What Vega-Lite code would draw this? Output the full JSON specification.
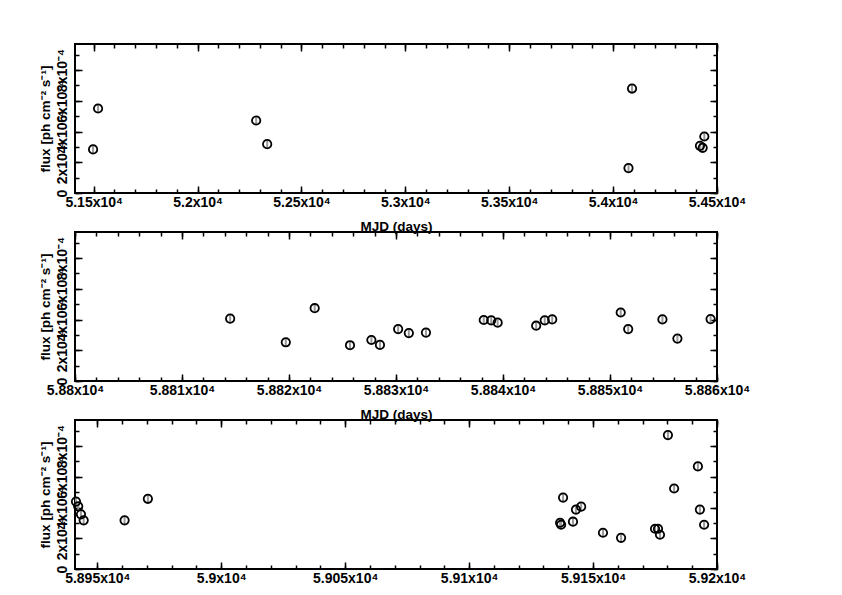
{
  "$schema": "https://vega.github.io/schema/vega-lite/v6.json",
  "padding": {"left": 36, "top": 42, "right": 20, "bottom": 5},
  "background": "white",
  "config": {
    "view": {"stroke": "black", "strokeWidth": 2},
    "axis": {
      "domain": false, "grid": false,
      "labelFont": "Liberation Sans", "labelFontSize": 14, "labelFontWeight": "bold", "labelColor": "black",
      "titleFont": "Liberation Sans", "titleFontSize": 13.5, "titleFontWeight": "bold", "titleColor": "black",
      "tickColor": "black", "tickWidth": 1.5, "labelFlush": false, "labelOverlap": false
    }
  },
  "datasets": {
    "p1": [
      {"mjd": 51497, "flux": 0.000284, "lo": 0.000259, "hi": 0.000309},
      {"mjd": 51521, "flux": 0.000550, "lo": 0.000525, "hi": 0.000575},
      {"mjd": 52282, "flux": 0.000472, "lo": 0.000447, "hi": 0.000497},
      {"mjd": 52335, "flux": 0.000318, "lo": 0.000293, "hi": 0.000343},
      {"mjd": 54074, "flux": 0.000162, "lo": 0.000137, "hi": 0.000187},
      {"mjd": 54091, "flux": 0.000680, "lo": 0.000655, "hi": 0.000705},
      {"mjd": 54418, "flux": 0.000307, "lo": 0.000282, "hi": 0.000332},
      {"mjd": 54431, "flux": 0.000294, "lo": 0.000269, "hi": 0.000319},
      {"mjd": 54439, "flux": 0.000368, "lo": 0.000343, "hi": 0.000393}
    ],
    "p2": [
      {"mjd": 58814.5, "flux": 0.000406, "lo": 0.000381, "hi": 0.000431},
      {"mjd": 58819.7, "flux": 0.000252, "lo": 0.000227, "hi": 0.000277},
      {"mjd": 58822.4, "flux": 0.000474, "lo": 0.000449, "hi": 0.000499},
      {"mjd": 58825.7, "flux": 0.000233, "lo": 0.000208, "hi": 0.000258},
      {"mjd": 58827.7, "flux": 0.000267, "lo": 0.000242, "hi": 0.000292},
      {"mjd": 58828.5, "flux": 0.000235, "lo": 0.000210, "hi": 0.000260},
      {"mjd": 58830.2, "flux": 0.000338, "lo": 0.000313, "hi": 0.000363},
      {"mjd": 58831.2, "flux": 0.000312, "lo": 0.000287, "hi": 0.000337},
      {"mjd": 58832.8, "flux": 0.000315, "lo": 0.000290, "hi": 0.000340},
      {"mjd": 58838.2, "flux": 0.000397, "lo": 0.000372, "hi": 0.000422},
      {"mjd": 58838.9, "flux": 0.000395, "lo": 0.000370, "hi": 0.000420},
      {"mjd": 58839.5, "flux": 0.000380, "lo": 0.000355, "hi": 0.000405},
      {"mjd": 58843.1, "flux": 0.000360, "lo": 0.000335, "hi": 0.000385},
      {"mjd": 58843.9, "flux": 0.000395, "lo": 0.000370, "hi": 0.000420},
      {"mjd": 58844.6, "flux": 0.000401, "lo": 0.000376, "hi": 0.000426},
      {"mjd": 58851.0, "flux": 0.000446, "lo": 0.000421, "hi": 0.000476},
      {"mjd": 58851.7, "flux": 0.000338, "lo": 0.000313, "hi": 0.000363},
      {"mjd": 58854.9, "flux": 0.000401, "lo": 0.000376, "hi": 0.000426},
      {"mjd": 58856.3, "flux": 0.000276, "lo": 0.000251, "hi": 0.000301},
      {"mjd": 58859.4, "flux": 0.000403, "lo": 0.000378, "hi": 0.000428}
    ],
    "p3": [
      {"mjd": 58941.4, "flux": 0.000439, "lo": 0.000414, "hi": 0.000464},
      {"mjd": 58942.3, "flux": 0.000408, "lo": 0.000383, "hi": 0.000433},
      {"mjd": 58943.4, "flux": 0.000356, "lo": 0.000331, "hi": 0.000381},
      {"mjd": 58944.5, "flux": 0.000317, "lo": 0.000292, "hi": 0.000342},
      {"mjd": 58961.0, "flux": 0.000317, "lo": 0.000292, "hi": 0.000342},
      {"mjd": 58970.4, "flux": 0.000457, "lo": 0.000432, "hi": 0.000482},
      {"mjd": 59136.7, "flux": 0.000301, "lo": 0.000276, "hi": 0.000326},
      {"mjd": 59137.1, "flux": 0.000288, "lo": 0.000263, "hi": 0.000313},
      {"mjd": 59137.9, "flux": 0.000465, "lo": 0.000440, "hi": 0.000490},
      {"mjd": 59141.9, "flux": 0.000308, "lo": 0.000283, "hi": 0.000333},
      {"mjd": 59143.1, "flux": 0.000387, "lo": 0.000362, "hi": 0.000412},
      {"mjd": 59145.2, "flux": 0.000406, "lo": 0.000381, "hi": 0.000431},
      {"mjd": 59154.0, "flux": 0.000236, "lo": 0.000211, "hi": 0.000261},
      {"mjd": 59161.3, "flux": 0.000203, "lo": 0.000178, "hi": 0.000228},
      {"mjd": 59175.0, "flux": 0.000262, "lo": 0.000237, "hi": 0.000287},
      {"mjd": 59176.2, "flux": 0.000262, "lo": 0.000237, "hi": 0.000287},
      {"mjd": 59177.0, "flux": 0.000223, "lo": 0.000198, "hi": 0.000248},
      {"mjd": 59180.2, "flux": 0.000872, "lo": 0.000847, "hi": 0.000897},
      {"mjd": 59182.7, "flux": 0.000524, "lo": 0.000499, "hi": 0.000549},
      {"mjd": 59192.3, "flux": 0.000668, "lo": 0.000643, "hi": 0.000693},
      {"mjd": 59193.1, "flux": 0.000387, "lo": 0.000362, "hi": 0.000412},
      {"mjd": 59194.8, "flux": 0.000288, "lo": 0.000263, "hi": 0.000313}
    ]
  },
  "vconcat": [
    {
      "width": 642, "height": 149,
      "data": {"name": "p1"},
      "resolve": {"axis": {"x": "independent", "y": "independent"}},
      "layer": [
        {
          "mark": {"type": "rule", "color": "#9a9a9a", "strokeWidth": 2},
          "encoding": {
            "x": {"field": "mjd", "type": "quantitative", "scale": {"domain": [51410, 54500], "nice": false, "zero": false},
              "axis": {"orient": "bottom", "values": [51500, 52000, 52500, 53000, 53500, 54000, 54500],
                "labelExpr": "format(datum.value/10000,'.4~f') + 'x10⁴'", "tickSize": -7, "labelPadding": 9,
                "title": "MJD (days)", "titleY": 37, "titleBaseline": "alphabetic"}},
            "y": {"field": "lo", "type": "quantitative", "scale": {"domain": [0, 0.00097], "nice": false},
              "axis": {"orient": "left", "values": [0, 0.0002, 0.0004, 0.0006, 0.0008],
                "labelExpr": "datum.value == 0 ? '0' : format(datum.value*10000,'.0f') + 'x10⁻⁴'",
                "labelAngle": 270, "labelAlign": "center", "labelBaseline": "bottom", "tickSize": -7, "labelPadding": 13,
                "title": "flux [ph cm⁻² s⁻¹]", "titlePadding": 3}},
            "y2": {"field": "hi"}
          }
        },
        {
          "mark": {"type": "point", "shape": "circle", "filled": false, "color": "black", "size": 70, "strokeWidth": 1.8, "opacity": 1},
          "encoding": {
            "x": {"field": "mjd", "type": "quantitative", "scale": {"domain": [51410, 54500], "nice": false, "zero": false},
              "axis": {"orient": "top", "values": [51500, 52000, 52500, 53000, 53500, 54000, 54500], "labels": false, "tickSize": -7, "title": null}},
            "y": {"field": "flux", "type": "quantitative", "scale": {"domain": [0, 0.00097], "nice": false},
              "axis": {"orient": "right", "values": [0, 0.0002, 0.0004, 0.0006, 0.0008], "labels": false, "tickSize": -7, "title": null}}
          }
        },
        {
          "mark": {"type": "point", "opacity": 0},
          "encoding": {
            "x": {"field": "mjd", "type": "quantitative", "scale": {"domain": [51410, 54500], "nice": false, "zero": false},
              "axis": {"orient": "bottom", "values": [51500, 51600, 51700, 51800, 51900, 52000, 52100, 52200, 52300, 52400, 52500, 52600, 52700, 52800, 52900, 53000, 53100, 53200, 53300, 53400, 53500, 53600, 53700, 53800, 53900, 54000, 54100, 54200, 54300, 54400, 54500], "labels": false, "tickSize": -4, "title": null}},
            "y": {"field": "flux", "type": "quantitative", "scale": {"domain": [0, 0.00097], "nice": false},
              "axis": {"orient": "left", "values": [0, 0.0001, 0.0002, 0.0003, 0.0004, 0.0005, 0.0006, 0.0007, 0.0008, 0.0009], "labels": false, "tickSize": -4, "title": null}}
          }
        },
        {
          "mark": {"type": "point", "opacity": 0},
          "encoding": {
            "x": {"field": "mjd", "type": "quantitative", "scale": {"domain": [51410, 54500], "nice": false, "zero": false},
              "axis": {"orient": "top", "values": [51500, 51600, 51700, 51800, 51900, 52000, 52100, 52200, 52300, 52400, 52500, 52600, 52700, 52800, 52900, 53000, 53100, 53200, 53300, 53400, 53500, 53600, 53700, 53800, 53900, 54000, 54100, 54200, 54300, 54400, 54500], "labels": false, "tickSize": -4, "title": null}},
            "y": {"field": "flux", "type": "quantitative", "scale": {"domain": [0, 0.00097], "nice": false},
              "axis": {"orient": "right", "values": [0, 0.0001, 0.0002, 0.0003, 0.0004, 0.0005, 0.0006, 0.0007, 0.0008, 0.0009], "labels": false, "tickSize": -4, "title": null}}
          }
        }
      ]
    },
    {
      "width": 642, "height": 149,
      "data": {"name": "p2"},
      "resolve": {"axis": {"x": "independent", "y": "independent"}},
      "layer": [
        {
          "mark": {"type": "rule", "color": "#9a9a9a", "strokeWidth": 2},
          "encoding": {
            "x": {"field": "mjd", "type": "quantitative", "scale": {"domain": [58800, 58860], "nice": false, "zero": false},
              "axis": {"orient": "bottom", "values": [58800, 58810, 58820, 58830, 58840, 58850, 58860],
                "labelExpr": "format(datum.value/10000,'.4~f') + 'x10⁴'", "tickSize": -7, "labelPadding": 9,
                "title": "MJD (days)", "titleY": 37, "titleBaseline": "alphabetic"}},
            "y": {"field": "lo", "type": "quantitative", "scale": {"domain": [0, 0.00097], "nice": false},
              "axis": {"orient": "left", "values": [0, 0.0002, 0.0004, 0.0006, 0.0008],
                "labelExpr": "datum.value == 0 ? '0' : format(datum.value*10000,'.0f') + 'x10⁻⁴'",
                "labelAngle": 270, "labelAlign": "center", "labelBaseline": "bottom", "tickSize": -7, "labelPadding": 13,
                "title": "flux [ph cm⁻² s⁻¹]", "titlePadding": 3}},
            "y2": {"field": "hi"}
          }
        },
        {
          "mark": {"type": "point", "shape": "circle", "filled": false, "color": "black", "size": 70, "strokeWidth": 1.8, "opacity": 1},
          "encoding": {
            "x": {"field": "mjd", "type": "quantitative", "scale": {"domain": [58800, 58860], "nice": false, "zero": false},
              "axis": {"orient": "top", "values": [58800, 58810, 58820, 58830, 58840, 58850, 58860], "labels": false, "tickSize": -7, "title": null}},
            "y": {"field": "flux", "type": "quantitative", "scale": {"domain": [0, 0.00097], "nice": false},
              "axis": {"orient": "right", "values": [0, 0.0002, 0.0004, 0.0006, 0.0008], "labels": false, "tickSize": -7, "title": null}}
          }
        },
        {
          "mark": {"type": "point", "opacity": 0},
          "encoding": {
            "x": {"field": "mjd", "type": "quantitative", "scale": {"domain": [58800, 58860], "nice": false, "zero": false},
              "axis": {"orient": "bottom", "values": [58800, 58802, 58804, 58806, 58808, 58810, 58812, 58814, 58816, 58818, 58820, 58822, 58824, 58826, 58828, 58830, 58832, 58834, 58836, 58838, 58840, 58842, 58844, 58846, 58848, 58850, 58852, 58854, 58856, 58858, 58860], "labels": false, "tickSize": -4, "title": null}},
            "y": {"field": "flux", "type": "quantitative", "scale": {"domain": [0, 0.00097], "nice": false},
              "axis": {"orient": "left", "values": [0, 0.0001, 0.0002, 0.0003, 0.0004, 0.0005, 0.0006, 0.0007, 0.0008, 0.0009], "labels": false, "tickSize": -4, "title": null}}
          }
        },
        {
          "mark": {"type": "point", "opacity": 0},
          "encoding": {
            "x": {"field": "mjd", "type": "quantitative", "scale": {"domain": [58800, 58860], "nice": false, "zero": false},
              "axis": {"orient": "top", "values": [58800, 58802, 58804, 58806, 58808, 58810, 58812, 58814, 58816, 58818, 58820, 58822, 58824, 58826, 58828, 58830, 58832, 58834, 58836, 58838, 58840, 58842, 58844, 58846, 58848, 58850, 58852, 58854, 58856, 58858, 58860], "labels": false, "tickSize": -4, "title": null}},
            "y": {"field": "flux", "type": "quantitative", "scale": {"domain": [0, 0.00097], "nice": false},
              "axis": {"orient": "right", "values": [0, 0.0001, 0.0002, 0.0003, 0.0004, 0.0005, 0.0006, 0.0007, 0.0008, 0.0009], "labels": false, "tickSize": -4, "title": null}}
          }
        }
      ]
    },
    {
      "width": 642, "height": 149,
      "data": {"name": "p3"},
      "resolve": {"axis": {"x": "independent", "y": "independent"}},
      "layer": [
        {
          "mark": {"type": "rule", "color": "#9a9a9a", "strokeWidth": 2},
          "encoding": {
            "x": {"field": "mjd", "type": "quantitative", "scale": {"domain": [58941, 59200], "nice": false, "zero": false},
              "axis": {"orient": "bottom", "values": [58950, 59000, 59050, 59100, 59150, 59200],
                "labelExpr": "format(datum.value/10000,'.4~f') + 'x10⁴'", "tickSize": -7, "labelPadding": 9,
                "title": null}},
            "y": {"field": "lo", "type": "quantitative", "scale": {"domain": [0, 0.00097], "nice": false},
              "axis": {"orient": "left", "values": [0, 0.0002, 0.0004, 0.0006, 0.0008],
                "labelExpr": "datum.value == 0 ? '0' : format(datum.value*10000,'.0f') + 'x10⁻⁴'",
                "labelAngle": 270, "labelAlign": "center", "labelBaseline": "bottom", "tickSize": -7, "labelPadding": 13,
                "title": "flux [ph cm⁻² s⁻¹]", "titlePadding": 3}},
            "y2": {"field": "hi"}
          }
        },
        {
          "mark": {"type": "point", "shape": "circle", "filled": false, "color": "black", "size": 70, "strokeWidth": 1.8, "opacity": 1},
          "encoding": {
            "x": {"field": "mjd", "type": "quantitative", "scale": {"domain": [58941, 59200], "nice": false, "zero": false},
              "axis": {"orient": "top", "values": [58950, 59000, 59050, 59100, 59150, 59200], "labels": false, "tickSize": -7, "title": null}},
            "y": {"field": "flux", "type": "quantitative", "scale": {"domain": [0, 0.00097], "nice": false},
              "axis": {"orient": "right", "values": [0, 0.0002, 0.0004, 0.0006, 0.0008], "labels": false, "tickSize": -7, "title": null}}
          }
        },
        {
          "mark": {"type": "point", "opacity": 0},
          "encoding": {
            "x": {"field": "mjd", "type": "quantitative", "scale": {"domain": [58941, 59200], "nice": false, "zero": false},
              "axis": {"orient": "bottom", "values": [58950, 58960, 58970, 58980, 58990, 59000, 59010, 59020, 59030, 59040, 59050, 59060, 59070, 59080, 59090, 59100, 59110, 59120, 59130, 59140, 59150, 59160, 59170, 59180, 59190, 59200], "labels": false, "tickSize": -4, "title": null}},
            "y": {"field": "flux", "type": "quantitative", "scale": {"domain": [0, 0.00097], "nice": false},
              "axis": {"orient": "left", "values": [0, 0.0001, 0.0002, 0.0003, 0.0004, 0.0005, 0.0006, 0.0007, 0.0008, 0.0009], "labels": false, "tickSize": -4, "title": null}}
          }
        },
        {
          "mark": {"type": "point", "opacity": 0},
          "encoding": {
            "x": {"field": "mjd", "type": "quantitative", "scale": {"domain": [58941, 59200], "nice": false, "zero": false},
              "axis": {"orient": "top", "values": [58950, 58960, 58970, 58980, 58990, 59000, 59010, 59020, 59030, 59040, 59050, 59060, 59070, 59080, 59090, 59100, 59110, 59120, 59130, 59140, 59150, 59160, 59170, 59180, 59190, 59200], "labels": false, "tickSize": -4, "title": null}},
            "y": {"field": "flux", "type": "quantitative", "scale": {"domain": [0, 0.00097], "nice": false},
              "axis": {"orient": "right", "values": [0, 0.0001, 0.0002, 0.0003, 0.0004, 0.0005, 0.0006, 0.0007, 0.0008, 0.0009], "labels": false, "tickSize": -4, "title": null}}
          }
        }
      ]
    }
  ],
  "spacing": 39,
  "bounds": "flush"
}
